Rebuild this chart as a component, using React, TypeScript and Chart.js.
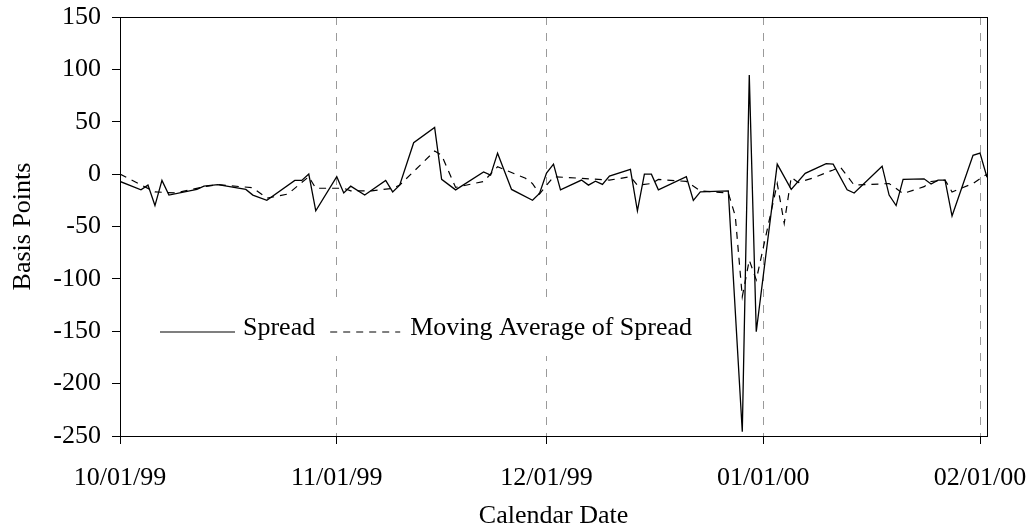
import React, { useEffect, useRef } from "react";
import { Chart, registerables } from "chart.js";

Chart.register(...registerables);

// x values are days since 10/01/99
const tickDays = [0, 31, 61, 92, 123];
const tickLabels = ["10/01/99", "11/01/99", "12/01/99", "01/01/00", "02/01/00"];
const yTicks = [-250, -200, -150, -100, -50, 0, 50, 100, 150];

const spreadDays = [0, 3, 4, 5, 6, 7, 11, 12, 14, 18, 19, 21, 25, 26, 27, 28, 31, 32, 33, 35, 38, 39, 40, 42, 45, 46, 48, 52, 53, 54, 56, 59, 60, 61, 62, 63, 66, 67, 68, 69, 70, 73, 74, 75, 76, 77, 81, 82, 83, 87, 89, 90, 91, 94, 96, 98, 101, 102, 104, 105, 109, 110, 111, 112, 115, 116, 117, 118, 119, 122, 123, 124];
const spreadValues = [-7, -15, -10.5, -30, -6, -20, -14.5, -11.5, -10, -14.6, -20, -25, -6, -6, 0, -35, -2.5, -18, -11.5, -20, -6, -17, -10.5, 30, 44.6, -5, -15, 2, -1, 20, -14.6, -25, -18.5, 1, 9.5, -15, -5.7, -10.5, -6.7, -9.8, -1.9, 4.5, -35, 0, 0, -15, -2.5, -25, -17, -16, -246, 94.5, -150.5, 9.5, -14.6, 0.7, 10, 9.5, -15, -18, 7.6, -20, -30, -5, -4.5, -9.5, -5.7, -5.7, -40, 18, 20, -3];

const maDays = [0, 5, 8, 12, 14, 19, 21, 24, 27, 28, 32, 33, 36, 39, 40, 45, 46, 48, 52, 54, 58, 59, 60, 62, 66, 70, 73, 74, 76, 77, 81, 83, 87, 88, 89, 90, 91, 94, 95, 96, 97, 99, 102, 103, 105, 110, 112, 115, 116, 118, 119, 122, 124];
const maValues = [0, -17, -18, -12, -10, -13, -23, -19, -2.5, -13.5, -13.5, -16, -16, -13.6, -10.5, 22, 18, -12.7, -7, 7, -4, -9, -19, -2.5, -4, -5.7, -2.5, -10.5, -9, -5, -7, -16, -18, -40, -117, -82, -101, -9, -47, -3, -8, -4, 4, 7, -10.5, -9, -18.5, -12, -7, -5.7, -17, -9, 0];

const FONT = "'Liberation Serif', 'Times New Roman', serif";
const FS = 26;

const zeroPad = (s: any) => {
  s.paddingTop = 0;
  s.paddingBottom = 0;
  s.paddingLeft = 0;
  s.paddingRight = 0;
};

const framePlugin = {
  id: "frame",
  afterDraw(chart: any) {
    const { ctx, chartArea: a } = chart;
    ctx.save();
    ctx.strokeStyle = "#000";
    ctx.lineWidth = 1;
    ctx.setLineDash([]);
    ctx.strokeRect(Math.round(a.left) + 0.5, Math.round(a.top) + 0.5, Math.round(a.right - a.left), Math.round(a.bottom - a.top));
    ctx.restore();
  },
};

const legendPlugin = {
  id: "boxLegend",
  afterDatasetsDraw(chart: any) {
    const { ctx, chartArea: a } = chart;
    const ds = chart.data.datasets;
    ctx.save();
    ctx.font = `${FS}px ${FONT}`;
    const x0 = a.left + 35;
    const yTop = a.top + 285;
    const yLine = a.top + 315;
    const yBase = a.top + 318;
    const w1 = ctx.measureText(ds[0].label).width;
    const w2 = ctx.measureText(ds[1].label).width;
    const sample1 = 75;
    const sample2 = 70;
    const totalW = 5 + sample1 + 8 + w1 + 15 + sample2 + 10 + w2 + 8;
    ctx.fillStyle = "#fff";
    ctx.fillRect(x0, yTop, totalW, 54);
    let x = x0 + 5;
    ctx.strokeStyle = "#000";
    ctx.lineWidth = 1.2;
    ctx.setLineDash([]);
    ctx.beginPath();
    ctx.moveTo(x, yLine);
    ctx.lineTo(x + sample1, yLine);
    ctx.stroke();
    x += sample1 + 8;
    ctx.fillStyle = "#000";
    ctx.textBaseline = "alphabetic";
    ctx.textAlign = "left";
    ctx.fillText(ds[0].label, x, yBase);
    x += w1 + 15;
    ctx.setLineDash(ds[1].borderDash);
    ctx.beginPath();
    ctx.moveTo(x, yLine);
    ctx.lineTo(x + sample2, yLine);
    ctx.stroke();
    ctx.setLineDash([]);
    x += sample2 + 10;
    ctx.fillText(ds[1].label, x, yBase);
    ctx.restore();
  },
};

export default function App() {
  const ref = useRef<HTMLCanvasElement | null>(null);

  useEffect(() => {
    if (!ref.current) return;
    const chart = new Chart(ref.current, {
      type: "line",
      data: {
        datasets: [
          {
            label: "Spread",
            data: spreadDays.map((d, i) => ({ x: d, y: spreadValues[i] })),
            borderColor: "#000",
            borderWidth: 1.3,
            pointRadius: 0,
            tension: 0,
            fill: false,
          },
          {
            label: "Moving Average of Spread",
            data: maDays.map((d, i) => ({ x: d, y: maValues[i] })),
            borderColor: "#000",
            borderWidth: 1.2,
            borderDash: [7, 6],
            pointRadius: 0,
            tension: 0,
            fill: false,
          },
        ],
      },
      options: {
        animation: false,
        responsive: false,
        devicePixelRatio: 1,
        layout: { padding: { top: 17, right: 49, left: 0, bottom: 0 } },
        plugins: { legend: { display: false }, tooltip: { enabled: false } },
        scales: {
          x: {
            type: "linear",
            min: 0,
            max: 124,
            afterFit: (s: any) => { s.height = 95; zeroPad(s); },
            afterBuildTicks: (s: any) => { s.ticks = tickDays.map((v) => ({ value: v })); },
            ticks: {
              autoSkip: false,
              maxRotation: 0,
              padding: 19,
              color: "#000",
              font: { family: FONT, size: FS },
              callback: (v: any) => { const i = tickDays.indexOf(Number(v)); return i >= 0 ? tickLabels[i] : ""; },
            },
            grid: {
              display: true,
              drawOnChartArea: true,
              color: "#9a9a9a",
              lineWidth: 1,
              drawTicks: true,
              tickLength: 8,
              tickColor: "#000",
              tickBorderDash: [],
            },
            border: { display: true, color: "#000", width: 1, dash: [8, 8] },
            title: {
              display: true,
              text: "Calendar Date",
              color: "#000",
              font: { family: FONT, size: FS },
              padding: { top: 0, bottom: -1 },
            },
          },
          y: {
            type: "linear",
            min: -250,
            max: 150,
            afterFit: (s: any) => { s.width = 120; zeroPad(s); },
            afterBuildTicks: (s: any) => { s.ticks = yTicks.map((v) => ({ value: v })); },
            ticks: {
              padding: 11,
              color: "#000",
              font: { family: FONT, size: FS },
            },
            grid: {
              display: true,
              drawOnChartArea: false,
              drawTicks: true,
              tickLength: 8,
              tickColor: "#000",
            },
            border: { display: true, color: "#000", width: 1 },
            title: {
              display: true,
              text: "Basis Points",
              color: "#000",
              font: { family: FONT, size: FS },
              padding: { top: 8, bottom: 0 },
            },
          },
        },
      },
      plugins: [legendPlugin, framePlugin],
    } as any);
    return () => chart.destroy();
  }, []);

  return (
    <div style={{ position: "fixed", left: 0, top: 0, width: 1036, height: 531, background: "#fff" }}>
      <canvas ref={ref} width={1036} height={531} style={{ width: 1036, height: 531, display: "block" }} />
    </div>
  );
}
